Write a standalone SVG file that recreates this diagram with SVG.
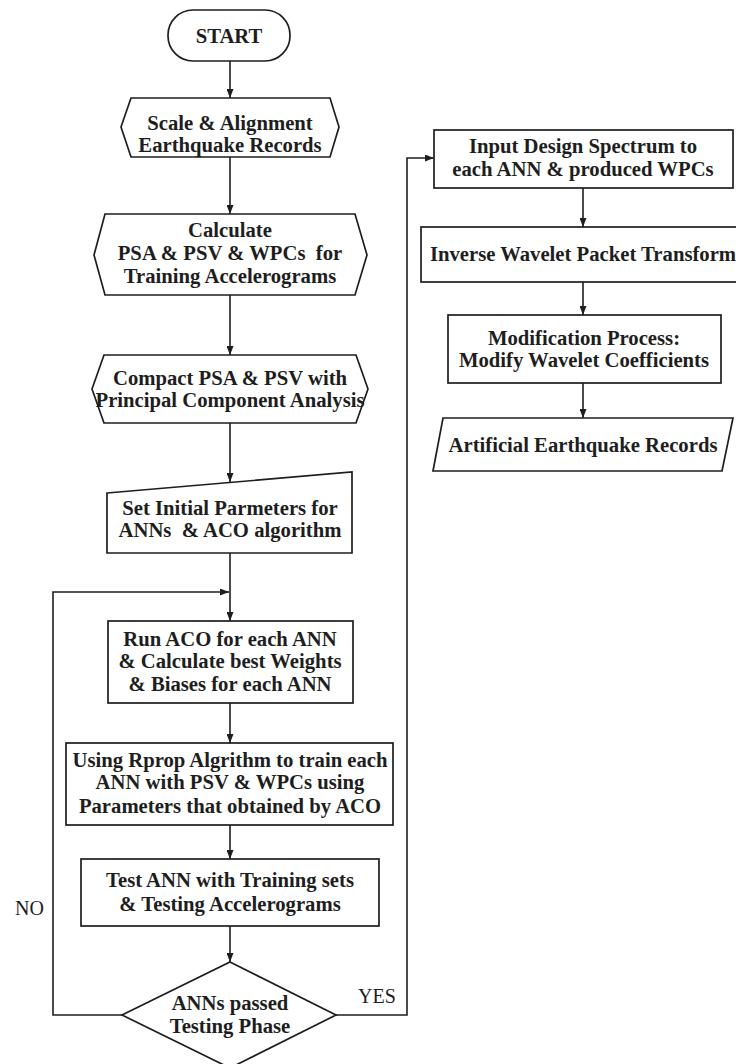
<svg xmlns="http://www.w3.org/2000/svg" width="736" height="1064" viewBox="0 0 736 1064">
<style>
.shape{fill:#ffffff;stroke:#1e1e1e;stroke-width:1.7}
.t{font-family:"Liberation Serif","Times New Roman",serif;font-weight:bold;font-size:20.7px;fill:#1e1e1e;text-anchor:middle}
.lbl{font-family:"Liberation Serif","Times New Roman",serif;font-size:20px;fill:#1e1e1e}
.c{fill:none;stroke:#1e1e1e;stroke-width:1.6}
</style>
<defs>
<marker id="ah" markerUnits="userSpaceOnUse" markerWidth="9" markerHeight="7" refX="9" refY="3.5" orient="auto">
<path d="M0,0 L9,3.5 L0,7 z" fill="#1e1e1e"/>
</marker>
</defs>
<rect width="736" height="1064" fill="#ffffff"/>

<g id="connectors">
<line class="c" x1="230" y1="61" x2="230" y2="98" marker-end="url(#ah)"/>
<line class="c" x1="230" y1="157" x2="230" y2="214" marker-end="url(#ah)"/>
<line class="c" x1="230" y1="295" x2="230" y2="355" marker-end="url(#ah)"/>
<line class="c" x1="230" y1="423" x2="230" y2="482" marker-end="url(#ah)"/>
<line class="c" x1="230" y1="553" x2="230" y2="621" marker-end="url(#ah)"/>
<line class="c" x1="230" y1="703" x2="230" y2="743" marker-end="url(#ah)"/>
<line class="c" x1="230" y1="825" x2="230" y2="859" marker-end="url(#ah)"/>
<line class="c" x1="230" y1="926" x2="230" y2="962" marker-end="url(#ah)"/>
<polyline class="c" points="122,1015 53,1015 53,592 229,592" marker-end="url(#ah)"/>
<polyline class="c" points="336,1015 407,1015 407,158 434,158" marker-end="url(#ah)"/>
<line class="c" x1="583" y1="188" x2="583" y2="227" marker-end="url(#ah)"/>
<line class="c" x1="583" y1="282" x2="583" y2="315" marker-end="url(#ah)"/>
<line class="c" x1="583" y1="383" x2="583" y2="418" marker-end="url(#ah)"/>
<text class="lbl" x="15" y="915">NO</text>
<text class="lbl" x="358" y="1003">YES</text>
</g>

<g id="start">
<rect class="shape" x="168" y="10" width="122" height="51" rx="25" ry="25"/>
<text class="t" x="229" y="43">START</text>
</g>

<g id="scale">
<polygon class="shape" points="121,127 131,98 330,98 339,127 330,157 131,157"/>
<text class="t" x="230" y="130">Scale &amp; Alignment</text>
<text class="t" x="230" y="152">Earthquake Records</text>
</g>

<g id="calculate">
<polygon class="shape" points="94,255 105,214 355,214 367,255 355,295 105,295"/>
<text class="t" x="230" y="237">Calculate</text>
<text class="t" x="230" y="260" xml:space="preserve">PSA &amp; PSV &amp; WPCs  for</text>
<text class="t" x="230" y="283">Training Accelerograms</text>
</g>

<g id="compact">
<polygon class="shape" points="92,389 104,355 356,355 368,389 356,423 104,423"/>
<text class="t" x="230" y="385">Compact PSA &amp; PSV with</text>
<text class="t" x="230" y="407">Principal Component Analysis</text>
</g>

<g id="initial">
<polygon class="shape" points="107,493 352,472 352,553 107,553"/>
<text class="t" x="230" y="515">Set Initial Parmeters for</text>
<text class="t" x="230" y="537" xml:space="preserve">ANNs  &amp; ACO algorithm</text>
</g>

<g id="runaco">
<rect class="shape" x="108" y="621" width="245" height="82"/>
<text class="t" x="230" y="646">Run ACO for each ANN</text>
<text class="t" x="230" y="668">&amp; Calculate best Weights</text>
<text class="t" x="230" y="691">&amp; Biases for each ANN</text>
</g>

<g id="rprop">
<rect class="shape" x="66" y="743" width="327" height="82"/>
<text class="t" x="230" y="767">Using Rprop Algrithm to train each</text>
<text class="t" x="230" y="789">ANN with PSV &amp; WPCs using</text>
<text class="t" x="230" y="813">Parameters that obtained by ACO</text>
</g>

<g id="test">
<rect class="shape" x="81" y="859" width="298" height="67"/>
<text class="t" x="230" y="887">Test ANN with Training sets</text>
<text class="t" x="230" y="911">&amp; Testing Accelerograms</text>
</g>

<g id="decision">
<polygon class="shape" points="230,962 336,1015 230,1068 122,1015"/>
<text class="t" x="230" y="1010">ANNs passed</text>
<text class="t" x="230" y="1033">Testing Phase</text>
</g>

<g id="input">
<rect class="shape" x="434" y="130" width="299" height="58"/>
<text class="t" x="583" y="153">Input Design Spectrum to</text>
<text class="t" x="583" y="176">each ANN &amp; produced WPCs</text>
</g>

<g id="inverse">
<rect class="shape" x="421" y="227" width="330" height="55"/>
<text class="t" x="583" y="261">Inverse Wavelet Packet Transform</text>
</g>

<g id="modification">
<rect class="shape" x="448" y="315" width="273" height="68"/>
<text class="t" x="584" y="345">Modification Process:</text>
<text class="t" x="584" y="367">Modify Wavelet Coefficients</text>
</g>

<g id="artificial">
<polygon class="shape" points="443,418 733,418 722,471 433,471"/>
<text class="t" x="583" y="452">Artificial Earthquake Records</text>
</g>
</svg>
